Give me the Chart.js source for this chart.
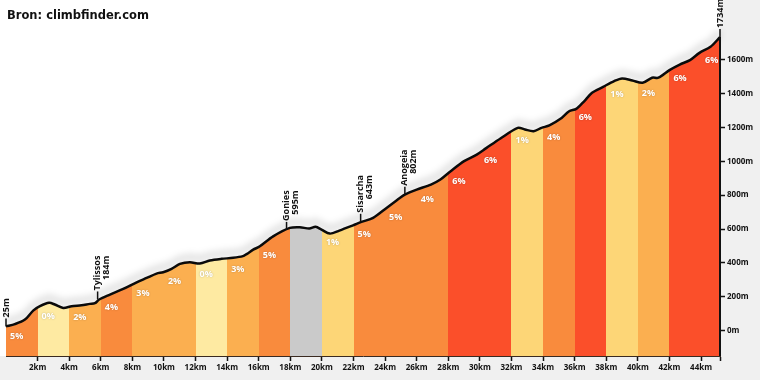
<!DOCTYPE html>
<html><head><meta charset="utf-8">
<script src="https://cdn.jsdelivr.net/npm/chart.js@4/dist/chart.umd.min.js"></script>
<style>html,body{margin:0;padding:0;background:#fff}#wrap{width:760px;height:380px;position:relative}</style>
</head><body><div id="wrap"><canvas id="c" width="760" height="380"></canvas></div>
<script>
// ---- data ----
const distanceKm = [0, 0.56, 1.2, 1.72, 2.15, 2.73, 3.09, 3.62, 4.15, 4.78, 5.31, 5.63, 5.9, 6.58, 7.42, 8.27, 8.9, 9.53, 9.95, 10.48, 11.01, 11.64, 12.27, 12.9, 13.65, 14.38, 15.0, 15.23, 15.65, 16.07, 16.91, 17.97, 18.6, 19.2, 19.6, 19.97, 20.5, 21.1, 21.97, 22.5, 23.24, 24.09, 24.93, 25.25, 26.0, 26.9, 27.5, 28.15, 29.0, 29.8, 30.4, 31.3, 32.4, 32.85, 33.4, 33.9, 34.4, 35.1, 35.65, 36.1, 36.6, 37.1, 37.8, 38.5, 39.0, 39.65, 40.3, 40.9, 41.3, 42.0, 42.65, 43.3, 43.9, 44.6, 45.2];
const elevationM = [25, 38, 65, 118, 144, 164, 154, 134, 144, 150, 158, 162, 184, 213, 246, 285, 311, 337, 345, 365, 394, 404, 396, 414, 424, 430, 440, 452, 478, 498, 557, 607, 611, 603, 613, 597, 573, 591, 622, 642, 666, 725, 784, 804, 833, 863, 893, 942, 1001, 1040, 1078, 1135, 1198, 1188, 1178, 1198, 1212, 1251, 1296, 1310, 1355, 1405, 1440, 1474, 1490, 1478, 1464, 1494, 1494, 1539, 1572, 1598, 1641, 1677, 1734];
const segmentStartKm = [0, 2, 4, 6, 8, 10, 12, 14, 16, 18, 20, 22, 24, 26, 28, 30, 32, 34, 36, 38, 40, 42, 44];
const segmentEndKm   = [2, 4, 6, 8, 10, 12, 14, 16, 18, 20, 22, 24, 26, 28, 30, 32, 34, 36, 38, 40, 42, 44, 45.2];
const segmentGrade   = [5, 0, 2, 4, 3, 2, 0, 3, 5, null, 1, 5, 5, 4, 6, 6, 1, 4, 6, 1, 2, 6, 6];
const xTickKm = [2, 4, 6, 8, 10, 12, 14, 16, 18, 20, 22, 24, 26, 28, 30, 32, 34, 36, 38, 40, 42, 44];
const yTickM = [0, 200, 400, 600, 800, 1000, 1200, 1400, 1600];
const placeNames = ['', 'Tylissos', 'Gonies', 'Sisarcha', 'Anogeia', ''];
const placeElevM = [25, 184, 595, 643, 802, 1734];
const placeKm = [0, 5.8, 17.76, 22.45, 25.25, 45.2];
const titleText = 'Bron: climbfinder.com';

function gradeColor(g) {
  if (g === null) return '#cacaca';
  if (g <= 0) return '#feeaa2';
  if (g <= 1) return '#fdd677';
  if (g <= 3) return '#fbaf50';
  if (g <= 5) return '#f98b3d';
  return '#fb4f2a';
}

function fillGradient(context) {
  const chart = context.chart;
  const area = chart.chartArea;
  if (!area) return '#f98b3d';
  const xs = chart.scales.x;
  const g = chart.ctx.createLinearGradient(area.left, 0, area.right, 0);
  const w = area.right - area.left;
  segmentStartKm.forEach((s, i) => {
    const a = Math.min(1, Math.max(0, (xs.getPixelForValue(s) - area.left) / w));
    const b = Math.min(1, Math.max(0, (xs.getPixelForValue(segmentEndKm[i]) - area.left) / w));
    const c = gradeColor(segmentGrade[i]);
    g.addColorStop(a, c);
    g.addColorStop(b, c);
  });
  return g;
}

function lineYAt(chart, px) {
  const pts = chart.getDatasetMeta(0).data;
  for (let i = 1; i < pts.length; i++) {
    if (pts[i].x >= px) {
      const p0 = pts[i - 1], p1 = pts[i];
      const t = (px - p0.x) / ((p1.x - p0.x) || 1);
      return p0.y + t * (p1.y - p0.y);
    }
  }
  return pts[pts.length - 1].y;
}

const bgPlugin = {
  id: 'bg',
  beforeDraw(chart) {
    const c = chart.ctx, a = chart.chartArea;
    c.save();
    c.fillStyle = '#ffffff';
    c.fillRect(0, 0, chart.width, chart.height);
    c.fillStyle = '#f0f0f0';
    c.fillRect(a.right, 0, chart.width - a.right, chart.height);
    c.fillRect(0, a.bottom, chart.width, chart.height - a.bottom);
    c.restore();
  },
  beforeDatasetsDraw(chart) {
    const c = chart.ctx;
    const pts = chart.getDatasetMeta(0).data;
    c.save();
    c.filter = 'blur(3px)';
    c.strokeStyle = 'rgba(0,0,0,0.10)';
    c.lineWidth = 8;
    c.lineJoin = 'round';
    c.beginPath();
    pts.forEach((p, i) => { if (i === 0) c.moveTo(p.x, p.y - 5); else c.lineTo(p.x, p.y - 5); });
    c.stroke();
    c.restore();
  }
};

const labelPlugin = {
  id: 'labels',
  afterDatasetsDraw(chart) {
    const c = chart.ctx, a = chart.chartArea, xs = chart.scales.x, ys = chart.scales.y;
    c.save();
    // grade labels
    c.font = 'bold 9px "Open Sans"';
    c.fillStyle = '#ffffff';
    c.textAlign = 'left';
    c.textBaseline = 'middle';
    segmentStartKm.forEach((s, i) => {
      if (segmentGrade[i] === null) return;
      const px = xs.getPixelForValue(s) + 4;
      const py = lineYAt(chart, px) + 11;
      c.shadowColor = 'rgba(0,0,0,0.25)';
      c.shadowBlur = 2;
      c.fillText(segmentGrade[i] + '%', px, py);
    });
    c.shadowColor = 'transparent';
    c.shadowBlur = 0;
    // right edge line
    c.strokeStyle = '#111';
    c.lineWidth = 2;
    c.beginPath();
    c.moveTo(a.right, ys.getPixelForValue(placeElevM[placeElevM.length - 1]));
    c.lineTo(a.right, a.bottom);
    c.stroke();
    // place labels
    c.font = 'bold 9px "Open Sans"';
    c.fillStyle = '#111';
    c.lineWidth = 1.5;
    placeKm.forEach((k, i) => {
      const px = Math.min(xs.getPixelForValue(k), a.right);
      const py = ys.getPixelForValue(placeElevM[i]);
      c.beginPath();
      c.moveTo(px, py);
      c.lineTo(px, py - 8);
      c.stroke();
      const lines = placeNames[i] ? [placeNames[i], placeElevM[i] + 'm'] : [placeElevM[i] + 'm'];
      const maxW = Math.max(...lines.map(l => c.measureText(l).width));
      c.save();
      c.translate(px, py - 9);
      c.rotate(-Math.PI / 2);
      c.textAlign = 'right';
      c.textBaseline = 'middle';
      lines.forEach((l, j) => c.fillText(l, maxW, j * 8.5));
      c.restore();
    });
    // title
    c.font = 'bold 11.5px "DejaVu Sans"';
    c.fillStyle = '#111';
    c.textAlign = 'left';
    c.textBaseline = 'alphabetic';
    c.fillText(titleText, 7, 19);
    c.restore();
  }
};

const tickFont = { family: 'Open Sans', size: 8, weight: 'bold' };

new Chart(document.getElementById('c'), {
  type: 'line',
  data: {
    datasets: [{
      data: distanceKm.map((d, i) => ({ x: d, y: elevationM[i] })),
      borderColor: '#0a0a0a',
      borderWidth: 2.5,
      pointRadius: 0,
      tension: 0.3,
      fill: 'start',
      backgroundColor: fillGradient
    }]
  },
  options: {
    responsive: false,
    animation: false,
    devicePixelRatio: 1,
    layout: { padding: { left: 6, top: 9, right: 0, bottom: 0 } },
    plugins: { legend: { display: false }, tooltip: { enabled: false }, title: { display: false } },
    scales: {
      x: {
        type: 'linear', min: 0, max: 45.2,
        afterBuildTicks: s => { s.ticks = xTickKm.concat([45.2]).map(v => ({ value: v })); },
        ticks: { callback: v => xTickKm.includes(v) ? v + 'km' : '', font: tickFont, color: '#111', maxRotation: 0, autoSkip: false, padding: 2 },
        grid: { drawOnChartArea: false, drawTicks: true, tickLength: 5, color: '#111', tickWidth: 1.5 },
        border: { display: true, color: '#3a2a20', width: 1 },
        afterFit: s => { s.height = 24; }
      },
      y: {
        position: 'right', min: -150, max: 1900,
        afterBuildTicks: s => { s.ticks = yTickM.map(v => ({ value: v })); },
        ticks: { callback: v => v + 'm', font: tickFont, color: '#111', padding: 2 },
        grid: { drawOnChartArea: false, drawTicks: true, tickLength: 5, color: '#111', tickWidth: 1.5 },
        border: { display: false },
        afterFit: s => { s.width = 40; }
      }
    }
  },
  plugins: [bgPlugin, labelPlugin]
});
</script>
</body></html>
